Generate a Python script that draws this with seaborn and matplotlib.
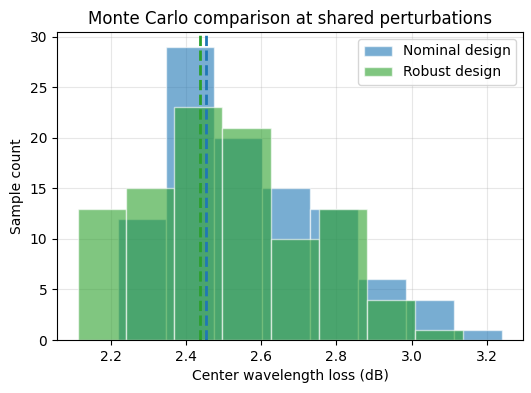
import numpy as np
import pandas as pd
import matplotlib
matplotlib.use("Agg")
import matplotlib.pyplot as plt
import seaborn as sns

# Histogram data
nominal_range = (2.2206, 3.2392)
nominal_counts = [12, 29, 20, 15, 13, 6, 4, 1]
robust_range = (2.1139, 3.1360)
robust_counts = [13, 15, 23, 21, 10, 13, 4, 1]
nominal_mean = 2.4525
robust_mean = 2.4373

labels = ["Nominal design", "Robust design"]
colors = ["#1f77b4", "#2ca02c"]

fig = plt.figure(figsize=(5.31, 3.93), dpi=100)
ax = fig.add_axes([57 / 531, 1 - 340 / 393, (523 - 57) / 531, (340 - 32) / 393])

for rng, counts, lab, col in [
    (nominal_range, nominal_counts, labels[0], colors[0]),
    (robust_range, robust_counts, labels[1], colors[1]),
]:
    n = len(counts)
    edges = np.linspace(rng[0], rng[1], n + 1)
    centers = (edges[:-1] + edges[1:]) / 2
    df = pd.DataFrame({"x": centers, "w": np.asarray(counts, dtype=float)})
    sns.histplot(data=df, x="x", weights="w", bins=n, binrange=rng, color=col,
                 alpha=0.6, edgecolor=(1, 1, 1, 0.6), linewidth=1, label=lab, ax=ax)

ax.axvline(nominal_mean, color=colors[0], linestyle="--", linewidth=2)
ax.axvline(robust_mean, color=colors[1], linestyle="--", linewidth=2)

ax.set_title("Monte Carlo comparison at shared perturbations", fontsize=12)
ax.set_xlabel("Center wavelength loss (dB)")
ax.set_ylabel("Sample count")
ax.grid(True, alpha=0.3)
ax.set_axisbelow(True)
ax.legend(loc="upper right")

fig.savefig("out.png", dpi=100)
